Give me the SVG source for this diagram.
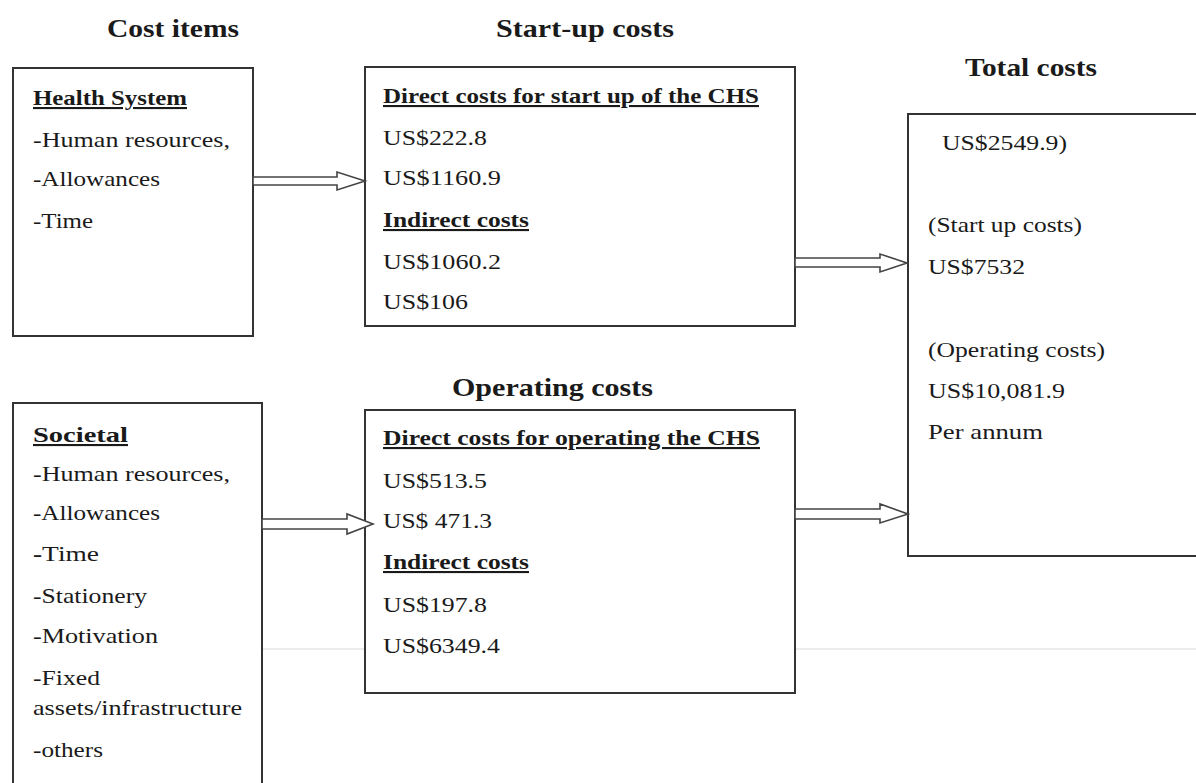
<svg xmlns="http://www.w3.org/2000/svg" width="1196" height="783" viewBox="0 0 1196 783">
<style>
text{font-family:"Liberation Serif","Times New Roman",serif;fill:#1a1a1a;}
.h{font-size:26px;font-weight:bold;}
.t{font-size:21px;}
.b{font-size:21px;font-weight:bold;text-decoration:underline;}
.box{fill:#fff;stroke:#333;stroke-width:2;}
.arr{fill:#fff;stroke:#444;stroke-width:1.6;stroke-linejoin:miter;}
</style>
<rect width="1196" height="783" fill="#fff"/>
<line x1="262" y1="649" x2="1196" y2="649" stroke="#e6e6e6" stroke-width="1.5"/>
<text class="h" x="107" y="37" textLength="132" lengthAdjust="spacingAndGlyphs">Cost items</text>
<text class="h" x="496" y="37" textLength="178" lengthAdjust="spacingAndGlyphs">Start-up costs</text>
<text class="h" x="965" y="76" textLength="132" lengthAdjust="spacingAndGlyphs">Total costs</text>
<text class="h" x="452" y="396" textLength="201" lengthAdjust="spacingAndGlyphs">Operating costs</text>
<g id="health-system">
<rect class="box" x="13" y="68" width="240" height="268"/>
<text class="b" x="33" y="105" textLength="154" lengthAdjust="spacingAndGlyphs">Health System</text>
<text class="t" x="33" y="147" textLength="197" lengthAdjust="spacingAndGlyphs">-Human resources,</text>
<text class="t" x="33" y="186" textLength="127" lengthAdjust="spacingAndGlyphs">-Allowances</text>
<text class="t" x="33" y="228" textLength="60" lengthAdjust="spacingAndGlyphs">-Time</text>
</g>
<g id="societal">
<rect class="box" x="13" y="403" width="249" height="400"/>
<text class="b" x="33" y="442" textLength="95" lengthAdjust="spacingAndGlyphs">Societal </text>
<text class="t" x="33" y="481" textLength="197" lengthAdjust="spacingAndGlyphs">-Human resources,</text>
<text class="t" x="33" y="520" textLength="127" lengthAdjust="spacingAndGlyphs">-Allowances</text>
<text class="t" x="33" y="561" textLength="66" lengthAdjust="spacingAndGlyphs"><tspan font-weight="bold">-</tspan>Time</text>
<text class="t" x="33" y="603" textLength="114" lengthAdjust="spacingAndGlyphs">-Stationery</text>
<text class="t" x="33" y="643" textLength="125" lengthAdjust="spacingAndGlyphs">-Motivation</text>
<text class="t" x="33" y="685" textLength="67" lengthAdjust="spacingAndGlyphs">-Fixed</text>
<text class="t" x="33" y="715" textLength="209" lengthAdjust="spacingAndGlyphs">assets/infrastructure</text>
<text class="t" x="33" y="757" textLength="70" lengthAdjust="spacingAndGlyphs">-others</text>
</g>
<g id="startup-costs">
<rect class="box" x="365" y="67" width="430" height="259"/>
<text class="b" x="383" y="103" textLength="376" lengthAdjust="spacingAndGlyphs">Direct costs for start up of the CHS</text>
<text class="t" x="383" y="145" textLength="104" lengthAdjust="spacingAndGlyphs">US$222.8</text>
<text class="t" x="383" y="185" textLength="118" lengthAdjust="spacingAndGlyphs">US$1160.9</text>
<text class="b" x="383" y="227" textLength="146" lengthAdjust="spacingAndGlyphs">Indirect costs</text>
<text class="t" x="383" y="269" textLength="118" lengthAdjust="spacingAndGlyphs">US$1060.2</text>
<text class="t" x="383" y="309" textLength="85" lengthAdjust="spacingAndGlyphs">US$106</text>
</g>
<g id="operating-costs">
<rect class="box" x="365" y="410" width="430" height="283"/>
<text class="b" x="383" y="445" textLength="377" lengthAdjust="spacingAndGlyphs">Direct costs for operating the CHS</text>
<text class="t" x="383" y="488" textLength="104" lengthAdjust="spacingAndGlyphs">US$513.5</text>
<text class="t" x="383" y="528" textLength="109" lengthAdjust="spacingAndGlyphs">US$ 471.3</text>
<text class="b" x="383" y="569" textLength="146" lengthAdjust="spacingAndGlyphs">Indirect costs</text>
<text class="t" x="383" y="612" textLength="104" lengthAdjust="spacingAndGlyphs">US$197.8</text>
<text class="t" x="383" y="653" textLength="117" lengthAdjust="spacingAndGlyphs">US$6349.4</text>
</g>
<g id="total-costs">
<rect class="box" x="908" y="114" width="300" height="442"/>
<text class="t" x="942" y="150" textLength="125" lengthAdjust="spacingAndGlyphs">US$2549.9)</text>
<text class="t" x="928" y="232" textLength="154" lengthAdjust="spacingAndGlyphs">(Start up costs)</text>
<text class="t" x="928" y="274" textLength="97" lengthAdjust="spacingAndGlyphs">US$7532</text>
<text class="t" x="928" y="357" textLength="177" lengthAdjust="spacingAndGlyphs">(Operating costs)</text>
<text class="t" x="928" y="398" textLength="137" lengthAdjust="spacingAndGlyphs">US$10,081.9</text>
<text class="t" x="928" y="439" textLength="115" lengthAdjust="spacingAndGlyphs">Per annum</text>
</g>
<g id="connectors">
<polygon class="arr" points="253,177 337,177 337,172 365,181 337,190 337,185 253,185"/>
<polygon class="arr" points="262,519 347,519 347,514 373,524 347,534 347,529 262,529"/>
<polygon class="arr" points="795,258 880,258 880,254 907,263 880,272 880,267 795,267"/>
<polygon class="arr" points="795,509 880,509 880,504 908,514 880,523 880,519 795,519"/>
</g>
</svg>
